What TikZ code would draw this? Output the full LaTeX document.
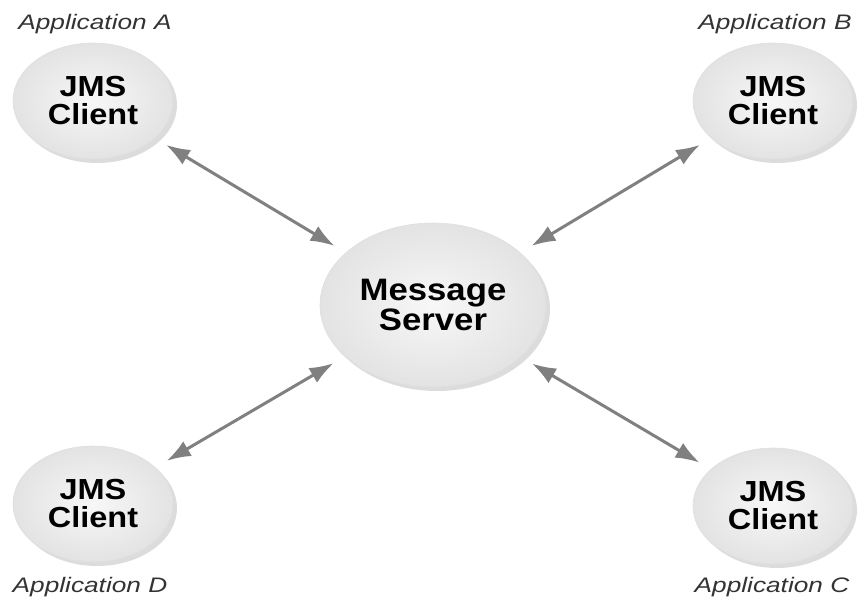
\documentclass[tikz,border=0pt]{standalone}
\usepackage{fontspec}
\usepackage{tikz}
\usetikzlibrary{arrows.meta, shapes.geometric, shadows}
\newfontfamily\knotfont[FakeStretch=1.12]{Liberation Sans}
\newfontfamily\appfont[FakeStretch=1.25]{Liberation Sans}

\begin{document}
\begin{tikzpicture}[x=1pt, y=-1pt, inner sep=0pt,
	knoten/.style={ellipse, shading=radial, inner color=gray!6, outer color=gray!22,
		draw=gray!25, line width=0.6pt, align=center,
		drop shadow={shadow xshift=4pt, shadow yshift=-4pt, fill=gray!60, opacity=0.45}},
	client/.style={knoten, minimum width=160pt, minimum height=116pt,
		font=\knotfont\bfseries\fontsize{29}{28}\selectfont},
	app/.style={font=\appfont\itshape\fontsize{21}{21}\selectfont, text=black!80},
	pfeil/.style={{Latex[length=24pt,width=17pt]}-{Latex[length=24pt,width=17pt]},
		draw=black!50, line width=3pt, shorten <=13pt, shorten >=13pt}]

	\useasboundingbox (0,0) rectangle (860,600);

	\node[knoten, minimum width=226pt, minimum height=164pt,
		font=\knotfont\bfseries\fontsize{31}{30}\selectfont](s) at (433,305) {Message\\Server};

	\node[client](a) at (93,101) {JMS\\Client};
	\node[client](b) at (773,101) {JMS\\Client};
	\node[client](c) at (773,506) {JMS\\Client};
	\node[client](d) at (93,504) {JMS\\Client};

	\node[app](A) at (95,24) {Application A};
	\node[app](B) at (775,24) {Application B};
	\node[app](C) at (772,587) {Application C};
	\node[app](D) at (90,587) {Application D};

	% Pfeile
	\draw[pfeil](a) -- (s);
	\draw[pfeil](b) -- (s);
	\draw[pfeil](c) -- (s);
	\draw[pfeil](d) -- (s);

\end{tikzpicture}
\end{document}
